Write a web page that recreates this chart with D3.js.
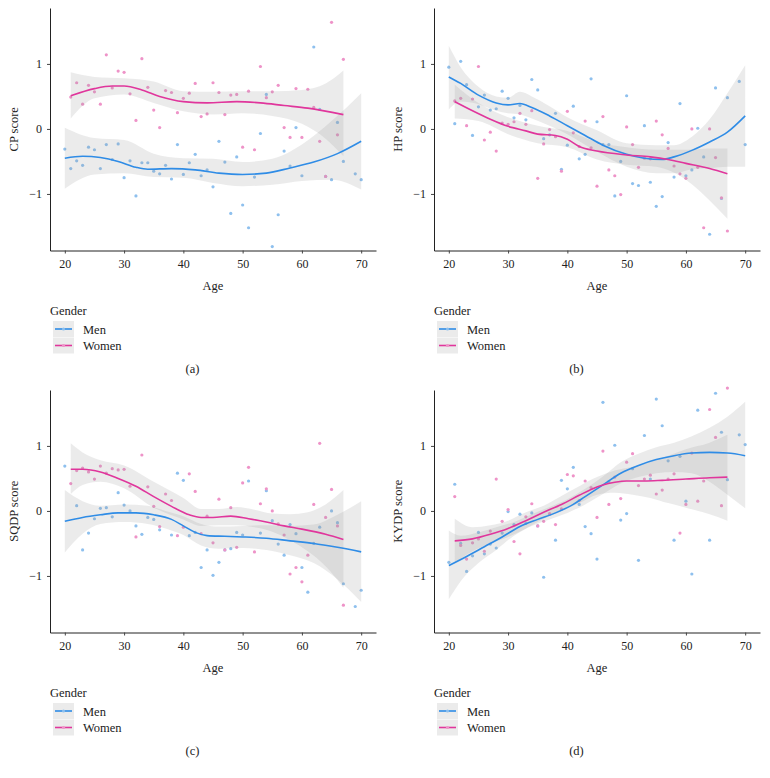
<!DOCTYPE html>
<html>
<head>
<meta charset="utf-8">
<script src="https://cdn.jsdelivr.net/npm/d3@7"></script>
<style>
  body { margin: 0; background: #fff; }
  svg text { font-family: "Liberation Serif", "DejaVu Serif", serif; fill: #222; }
</style>
</head>
<body>
<div id="chart"></div>
<script>
// ages with one point per gender
const menAges = [20,21,22,23,24,25,26,27,28,29,30,31,32,33,34,35,36,37,38,39,40,41,42,43,44,45,46,47,48,49,50,51,52,53,54,55,56,57,58,59,60,61,62,63,64,65,66,67,69,70];
const womenAges = [21,22,23,24,25,26,27,28,29,30,31,32,33,34,35,36,37,38,39,40,41,42,43,44,45,46,47,48,49,50,51,52,53,54,55,56,57,58,59,60,61,62,63,64,65,66,67];

const xTicks = [20, 30, 40, 50, 60, 70];
const yTicks = [-1, 0, 1];
const genders = ['Men', 'Women'];

// CP score
const cpMen = [-0.31,-0.61,-0.49,-0.56,-0.28,-0.32,-0.61,-0.24,-0.47,-0.23,-0.75,-0.49,-1.03,-0.52,-0.52,-0.65,-0.69,-0.56,-0.77,-0.24,-0.70,-0.52,-0.39,-0.72,-0.63,-0.89,-0.19,-0.51,-1.30,-0.43,-1.17,-1.52,-0.74,-0.07,0.53,-1.81,-1.32,-0.34,-0.57,0.02,-0.72,null,1.26,0.30,-0.73,-0.78,0.10,-0.50,-0.69,-0.78];
const cpWomen = [0.49,0.71,0.38,0.67,0.57,0.38,1.14,0.63,0.89,0.87,0.54,0.13,1.08,0.64,0.29,0.02,0.59,0.56,0.25,0.47,0.55,0.70,0.19,0.23,0.71,0.56,0.22,0.52,0.53,-0.28,0.58,-0.32,0.96,0.48,0.57,0.67,0.02,-0.13,0.62,-0.13,0.61,0.33,-0.19,-0.73,1.64,-0.09,1.07];
const cpMenLine = [[20,-0.45],[23,-0.42],[26,-0.44],[29,-0.50],[32,-0.59],[34,-0.62],[38,-0.61],[42,-0.63],[46,-0.68],[50,-0.70],[54,-0.68],[58,-0.60],[62,-0.51],[66,-0.38],[70,-0.19]];
const cpMenBand = [[20,-0.92,0.02],[25,-0.70,-0.14],[30,-0.68,-0.17],[35,-0.74,-0.38],[40,-0.75,-0.45],[45,-0.83,-0.46],[50,-0.88,-0.51],[55,-0.86,-0.46],[60,-0.80,-0.24],[65,-0.78,0.12],[70,-0.93,0.55]];
const cpWomenLine = [[21,0.51],[25,0.62],[28,0.66],[30,0.66],[33,0.60],[36,0.50],[40,0.42],[44,0.40],[49,0.42],[53,0.40],[57,0.36],[61,0.32],[67,0.22]];
const cpWomenBand = [[21,0.16,0.87],[25,0.47,0.80],[30,0.53,0.78],[35,0.40,0.73],[40,0.27,0.58],[45,0.22,0.57],[50,0.24,0.58],[55,0.20,0.58],[60,0.08,0.60],[64,-0.15,0.70],[67,-0.42,0.90]];

// HP score
const hpMen = [0.95,0.08,1.04,0.68,-0.10,0.34,0.52,0.29,0.31,0.58,0.47,0.17,0.36,0.14,0.76,0.60,-0.15,-0.09,0.24,-0.62,-0.25,0.35,-0.46,-0.39,0.77,0.11,-0.24,-0.24,-1.03,-0.50,0.51,-0.84,-0.87,0.05,-0.82,-1.19,-1.04,-0.21,-0.74,0.39,-0.72,-0.63,0.01,-0.43,-1.62,0.63,-1.07,0.48,0.73,-0.24];
const hpWomen = [0.43,0.47,0.05,0.46,0.96,-0.17,-0.05,-0.34,0.09,0.07,0.11,0.24,0.07,0.28,-0.76,-0.23,-0.01,-0.12,-0.65,0.27,-0.06,-0.27,0.12,-0.29,-0.88,0.19,-0.63,-0.72,-1.01,0.03,-0.24,-0.59,-0.45,-0.46,0.12,-0.09,-0.30,-0.57,-0.69,-0.76,0.00,-0.59,-1.52,0.00,-0.44,-1.06,-1.57];
const hpMenLine = [[20,0.80],[22,0.70],[25,0.52],[28,0.40],[30,0.37],[32,0.39],[34,0.33],[37,0.20],[40,0.05],[43,-0.10],[46,-0.25],[50,-0.39],[53,-0.45],[56,-0.47],[58,-0.43],[61,-0.33],[64,-0.20],[67,-0.05],[70,0.20]];
const hpMenBand = [[20,0.30,1.28],[22,0.42,0.95],[25,0.38,0.65],[28,0.28,0.50],[30,0.24,0.48],[32,0.22,0.57],[34,0.16,0.50],[37,0.05,0.35],[40,-0.08,0.18],[45,-0.35,-0.02],[50,-0.58,-0.22],[55,-0.68,-0.25],[58,-0.68,-0.25],[61,-0.62,-0.12],[64,-0.60,0.15],[67,-0.58,0.55],[70,-0.58,0.98]];
const hpWomenLine = [[21,0.42],[24,0.28],[27,0.15],[30,0.04],[33,-0.03],[35,-0.08],[38,-0.10],[40,-0.16],[42,-0.27],[45,-0.34],[50,-0.40],[54,-0.43],[57,-0.47],[60,-0.53],[64,-0.61],[67,-0.69]];
const hpWomenBand = [[21,0.16,0.68],[25,0.12,0.40],[30,-0.08,0.18],[35,-0.22,0.05],[40,-0.28,-0.03],[45,-0.47,-0.20],[50,-0.55,-0.28],[55,-0.58,-0.32],[60,-0.78,-0.32],[64,-1.10,-0.30],[67,-1.38,-0.30]];

// SQDP score
const sqdpMen = [0.69,null,0.08,-0.60,-0.34,-0.12,0.04,0.05,-0.09,0.28,0.09,0.00,-0.23,-0.36,-0.10,-0.13,-0.29,null,-0.37,0.58,0.47,-0.38,-0.33,-0.87,-0.60,-0.99,-0.79,-0.60,-0.58,-0.33,-0.37,0.46,null,-0.34,0.31,-0.15,-0.51,-0.68,-0.21,-0.35,-0.87,-1.25,-0.50,-0.25,null,0.00,-0.18,-1.12,-1.47,-1.22];
const sqdpWomen = [0.42,0.62,0.66,0.60,0.49,0.69,0.58,0.65,0.63,0.64,0.38,-0.40,0.86,0.37,0.07,-0.24,0.26,0.16,-0.38,-0.25,0.57,0.30,-0.35,-0.08,-0.49,0.18,-0.60,0.05,-0.56,0.43,0.67,-0.63,0.11,0.34,0.00,-0.20,-0.37,-0.97,-0.87,-1.09,-0.68,0.10,1.04,-0.10,0.33,-0.23,-1.45];
const sqdpMenLine = [[20,-0.16],[23,-0.10],[26,-0.06],[29,-0.03],[32,-0.03],[35,-0.06],[38,-0.13],[40,-0.23],[42,-0.33],[44,-0.38],[47,-0.39],[50,-0.40],[54,-0.42],[58,-0.46],[62,-0.50],[66,-0.56],[70,-0.63]];
const sqdpMenBand = [[20,-0.64,0.32],[23,-0.35,0.15],[26,-0.20,0.08],[30,-0.17,0.10],[34,-0.20,0.08],[37,-0.27,0.00],[40,-0.37,-0.08],[43,-0.53,-0.20],[46,-0.58,-0.24],[50,-0.57,-0.23],[54,-0.60,-0.22],[58,-0.68,-0.23],[62,-0.80,-0.21],[66,-1.05,-0.06],[70,-1.40,0.15]];
const sqdpWomenLine = [[21,0.64],[23,0.64],[26,0.60],[29,0.50],[32,0.38],[35,0.22],[38,0.07],[41,-0.06],[43,-0.10],[45,-0.10],[48,-0.08],[51,-0.12],[54,-0.17],[57,-0.23],[60,-0.28],[64,-0.36],[67,-0.44]];
const sqdpWomenBand = [[21,0.26,1.04],[23,0.40,0.90],[26,0.45,0.78],[30,0.35,0.70],[35,0.05,0.45],[40,-0.13,0.20],[43,-0.23,0.03],[46,-0.22,0.03],[49,-0.22,0.06],[52,-0.25,0.02],[55,-0.32,-0.04],[58,-0.45,-0.05],[61,-0.62,-0.02],[64,-0.85,0.10],[67,-1.18,0.32]];

// KYDP score
const kydpMen = [-0.79,0.41,-0.50,-0.93,-0.69,-0.33,-0.66,-0.51,-0.57,-0.34,-0.01,-0.21,-0.05,-0.19,-0.03,-0.23,-1.02,-0.05,-0.45,0.47,0.34,0.67,0.10,-0.24,-0.35,-0.74,1.67,0.45,1.01,-0.14,-0.04,0.65,-0.76,1.16,0.49,1.72,1.31,0.77,-0.45,0.84,0.15,-0.97,1.55,null,-0.45,1.81,1.21,0.48,1.17,1.02];
const kydpWomen = [0.22,-0.53,-0.74,-0.49,-0.43,-0.62,-0.31,0.49,-0.16,0.02,-0.47,-0.66,-0.09,0.11,-0.23,-0.16,-0.04,-0.21,0.03,0.56,0.54,0.16,0.46,0.36,-0.10,0.92,0.10,0.52,0.19,0.75,0.88,0.39,0.49,0.55,0.26,0.32,0.49,0.57,-0.34,0.10,0.89,0.15,0.46,1.56,1.13,0.08,1.89];
const kydpMenLine = [[20,-0.84],[23,-0.70],[26,-0.55],[29,-0.40],[32,-0.24],[35,-0.13],[38,-0.03],[41,0.10],[43,0.22],[46,0.40],[49,0.58],[52,0.70],[55,0.79],[58,0.85],[61,0.89],[64,0.90],[67,0.89],[70,0.85]];
const kydpMenBand = [[20,-1.36,-0.30],[22,-1.08,-0.38],[25,-0.80,-0.33],[28,-0.60,-0.25],[31,-0.38,-0.17],[34,-0.23,-0.05],[37,-0.13,0.06],[40,-0.03,0.18],[43,0.10,0.34],[46,0.26,0.53],[49,0.42,0.75],[52,0.52,0.88],[55,0.58,0.98],[58,0.60,1.05],[61,0.58,1.15],[64,0.45,1.28],[67,0.25,1.45],[70,0.04,1.68]];
const kydpWomenLine = [[21,-0.46],[24,-0.43],[27,-0.36],[30,-0.27],[33,-0.15],[36,-0.02],[39,0.10],[42,0.24],[44,0.33],[46,0.40],[48,0.44],[50,0.46],[53,0.46],[56,0.47],[60,0.49],[64,0.51],[67,0.52]];
const kydpWomenBand = [[21,-0.80,-0.12],[24,-0.62,-0.25],[27,-0.50,-0.22],[30,-0.40,-0.15],[33,-0.27,-0.02],[36,-0.12,0.08],[39,0.00,0.23],[42,0.12,0.38],[45,0.25,0.52],[48,0.28,0.62],[51,0.25,0.68],[54,0.20,0.75],[57,0.12,0.85],[60,0.05,0.95],[64,-0.05,1.05],[67,-0.15,1.17]];

const panels = [
  { label: 'CP score', tag: '(a)', men: cpMen, women: cpWomen, menLine: cpMenLine, menBand: cpMenBand, womenLine: cpWomenLine, womenBand: cpWomenBand, col: 0, row: 0 },
  { label: 'HP score', tag: '(b)', men: hpMen, women: hpWomen, menLine: hpMenLine, menBand: hpMenBand, womenLine: hpWomenLine, womenBand: hpWomenBand, col: 1, row: 0 },
  { label: 'SQDP score', tag: '(c)', men: sqdpMen, women: sqdpWomen, menLine: sqdpMenLine, menBand: sqdpMenBand, womenLine: sqdpWomenLine, womenBand: sqdpWomenBand, col: 0, row: 1 },
  { label: 'KYDP score', tag: '(d)', men: kydpMen, women: kydpWomen, menLine: kydpMenLine, menBand: kydpMenBand, womenLine: kydpWomenLine, womenBand: kydpWomenBand, col: 1, row: 1 },
];

const colors = { Men: '#2f8ce6', Women: '#e0369c' };
const pointColors = { Men: '#8ec0ee', Women: '#ee93c8' };

const width = 770;
const height = 778;
const fs = 12.5;

const svg = d3.select('#chart')
  .append('svg')
  .attr('width', width)
  .attr('height', height);

panels.forEach(drawPanel);

function drawPanel(p) {
  const ox = p.col * 384;
  const oy = p.row * 382;
  const area = { left: ox + 50, right: ox + 376, top: oy + 8, bottom: oy + 250.5 };

  const g = svg.append('g');

  const xScale = d3.scaleLinear().domain([17.5, 72.5]).range([area.left, area.right]);
  const yScale = d3.scaleLinear().domain([-1.87, 1.86]).range([area.bottom, area.top]);

  // points first, smooth layers on top
  const pts = [];
  menAges.forEach((a, i) => { if (p.men[i] != null) pts.push({ g: 'Men', age: a, v: p.men[i] }); });
  womenAges.forEach((a, i) => { if (p.women[i] != null) pts.push({ g: 'Women', age: a, v: p.women[i] }); });

  g.append('g')
    .selectAll('circle')
    .data(pts)
    .join('circle')
    .attr('cx', d => xScale(d.age))
    .attr('cy', d => yScale(d.v))
    .attr('r', 1.6)
    .attr('fill', d => pointColors[d.g]);

  const band = d3.area()
    .x(d => xScale(d[0]))
    .y0(d => yScale(d[1]))
    .y1(d => yScale(d[2]))
    .curve(d3.curveMonotoneX);

  const line = d3.line()
    .x(d => xScale(d[0]))
    .y(d => yScale(d[1]))
    .curve(d3.curveMonotoneX);

  [p.menBand, p.womenBand].forEach(b => {
    g.append('path')
      .attr('d', band(b))
      .attr('fill', '#999')
      .attr('fill-opacity', 0.2);
  });

  g.append('path').attr('d', line(p.menLine)).attr('fill', 'none')
    .attr('stroke', colors.Men).attr('stroke-width', 1.6);
  g.append('path').attr('d', line(p.womenLine)).attr('fill', 'none')
    .attr('stroke', colors.Women).attr('stroke-width', 1.6);

  // axes
  const xAxis = g.append('g')
    .attr('transform', `translate(0, ${area.bottom})`)
    .call(d3.axisBottom(xScale).tickValues(xTicks).tickSize(3).tickSizeOuter(0).tickPadding(6));
  const yAxis = g.append('g')
    .attr('transform', `translate(${area.left}, 0)`)
    .call(d3.axisLeft(yScale).tickValues(yTicks).tickSize(3).tickSizeOuter(0).tickPadding(5)
      .tickFormat(d => d < 0 ? '\u2212' + Math.abs(d) : d));

  [xAxis, yAxis].forEach(ax => {
    ax.select('.domain').attr('stroke', '#222').attr('stroke-width', 1);
    ax.selectAll('.tick line').attr('stroke', '#444');
    ax.selectAll('.tick text').attr('font-size', 12).style('font-family', '"Liberation Serif", serif').attr('fill', '#222');
  });

  g.append('text')
    .attr('x', (area.left + area.right) / 2)
    .attr('y', oy + 289.5)
    .attr('text-anchor', 'middle')
    .attr('font-size', fs)
    .text('Age');

  g.append('text')
    .attr('transform', `translate(${ox + 18}, ${(area.top + area.bottom) / 2}) rotate(-90)`)
    .attr('text-anchor', 'middle')
    .attr('font-size', fs)
    .text(p.label);

  // legend
  const lg = g.append('g').attr('transform', `translate(${ox + 50}, ${oy + 315})`);
  lg.append('text').attr('x', 0).attr('y', 0).attr('font-size', fs).text('Gender');
  genders.forEach((name, i) => {
    const ky = 6 + i * 16.5;
    lg.append('rect').attr('x', 3).attr('y', ky).attr('width', 21).attr('height', 16)
      .attr('fill', '#ebebeb');
    lg.append('line').attr('x1', 5).attr('x2', 22).attr('y1', ky + 8).attr('y2', ky + 8)
      .attr('stroke', colors[name]).attr('stroke-width', 1.6);
    lg.append('circle').attr('cx', 13.5).attr('cy', ky + 8).attr('r', 1.6)
      .attr('fill', pointColors[name]);
    lg.append('text').attr('x', 33).attr('y', ky + 12.5).attr('font-size', fs).text(name);
  });

  g.append('text')
    .attr('x', ox + 192.5)
    .attr('y', oy + 372.5)
    .attr('text-anchor', 'middle')
    .attr('font-size', fs)
    .text(p.tag);
}
</script>
</body>
</html>
